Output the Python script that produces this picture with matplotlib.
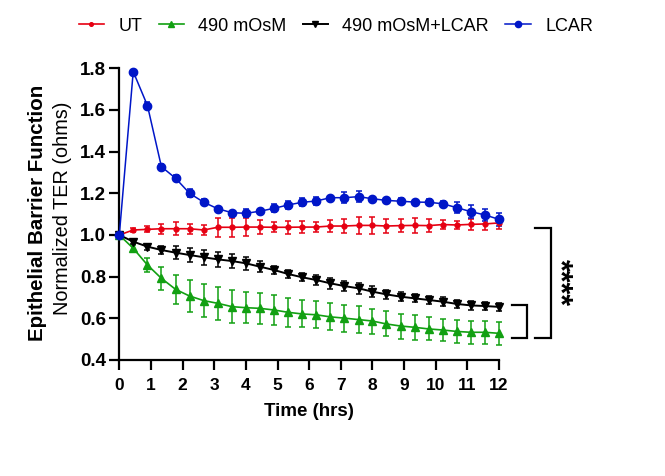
import matplotlib
matplotlib.use("Agg")
import matplotlib.pyplot as plt
from matplotlib.lines import Line2D

plt.rcParams['font.family'] = ['Liberation Sans', 'DejaVu Sans']

# --- DATA ---
time_hrs = [0.0, 0.44, 0.89, 1.33, 1.78, 2.22, 2.67, 3.11, 3.56, 4.0,
            4.44, 4.89, 5.33, 5.78, 6.22, 6.67, 7.11, 7.56, 8.0, 8.44,
            8.89, 9.33, 9.78, 10.22, 10.67, 11.11, 11.56, 12.0]

ut_mean = [1.0, 1.024, 1.027, 1.030, 1.030, 1.030, 1.024, 1.037, 1.037, 1.038,
           1.038, 1.037, 1.037, 1.038, 1.038, 1.043, 1.043, 1.046, 1.046, 1.043,
           1.045, 1.046, 1.045, 1.050, 1.048, 1.051, 1.053, 1.058]
ut_err = [0.0, 0.01, 0.015, 0.025, 0.03, 0.025, 0.025, 0.045, 0.045, 0.045,
          0.035, 0.025, 0.03, 0.03, 0.025, 0.03, 0.035, 0.04, 0.04, 0.035,
          0.03, 0.035, 0.03, 0.02, 0.02, 0.025, 0.03, 0.03]

hyper_mean = [1.0, 0.936, 0.856, 0.792, 0.739, 0.707, 0.685, 0.672, 0.656, 0.651,
              0.648, 0.640, 0.629, 0.621, 0.617, 0.607, 0.601, 0.594, 0.587, 0.573,
              0.563, 0.557, 0.549, 0.544, 0.537, 0.533, 0.533, 0.528]
hyper_err = [0.0, 0.015, 0.035, 0.055, 0.07, 0.075, 0.08, 0.08, 0.08, 0.075,
             0.075, 0.07, 0.07, 0.065, 0.065, 0.065, 0.065, 0.065, 0.06, 0.06,
             0.06, 0.06, 0.055, 0.055, 0.055, 0.055, 0.055, 0.055]

hyper_lcar_mean = [1.0, 0.968, 0.944, 0.928, 0.915, 0.904, 0.893, 0.883, 0.875, 0.864,
                   0.848, 0.832, 0.813, 0.797, 0.784, 0.768, 0.755, 0.744, 0.728, 0.715,
                   0.704, 0.696, 0.688, 0.680, 0.669, 0.662, 0.659, 0.655]
hyper_lcar_err = [0.0, 0.01, 0.015, 0.02, 0.03, 0.035, 0.035, 0.035, 0.035, 0.03,
                  0.025, 0.02, 0.02, 0.02, 0.025, 0.025, 0.025, 0.025, 0.025, 0.02,
                  0.02, 0.02, 0.02, 0.02, 0.02, 0.02, 0.02, 0.02]

lcar_mean = [1.0, 1.784, 1.621, 1.328, 1.272, 1.200, 1.157, 1.126, 1.107, 1.104,
             1.114, 1.128, 1.144, 1.157, 1.163, 1.179, 1.179, 1.184, 1.174, 1.166,
             1.162, 1.158, 1.157, 1.150, 1.131, 1.112, 1.096, 1.075]
lcar_err = [0.0, 0.01, 0.015, 0.015, 0.015, 0.02, 0.015, 0.01, 0.01, 0.02,
            0.01, 0.02, 0.02, 0.02, 0.02, 0.01, 0.025, 0.025, 0.01, 0.01,
            0.015, 0.01, 0.015, 0.015, 0.025, 0.03, 0.03, 0.03]

labels = ['UT', '490 mOsM', '490 mOsM+LCAR', 'LCAR']
x_ticks = list(range(0, 13))
y_ticks = [0.4, 0.6, 0.8, 1.0, 1.2, 1.4, 1.6, 1.8]

# --- STYLE ---
RED = '#E60012'
GREEN = '#12A012'
BLACK = '#000000'
BLUE = '#0016C8'

fig = plt.figure(figsize=(6.65, 4.76), dpi=100)
ax = fig.add_axes([0.1794, 0.2437, 0.571, 0.6128])

series = [
    (ut_mean, ut_err, RED, 'o', 3.5, 1.2),
    (hyper_mean, hyper_err, GREEN, '^', 5.8, 1.2),
    (hyper_lcar_mean, hyper_lcar_err, BLACK, 'v', 5.8, 1.4),
    (lcar_mean, lcar_err, BLUE, 'o', 6.0, 1.1),
]

for (m, e, c, mk, ms, lw), lab in zip(series, labels):
    ax.errorbar(time_hrs, m, yerr=e, color=c, marker=mk, markersize=ms,
                linewidth=lw, elinewidth=1.1, capsize=2.5, capthick=1.1,
                label=lab, clip_on=False, zorder=3)

ax.set_xlim(0, 12)
ax.set_ylim(0.4, 1.8)
ax.set_xticks(x_ticks)
ax.set_yticks(y_ticks)
ax.set_yticklabels([f"{v:.1f}" for v in y_ticks])

for s in ['top', 'right']:
    ax.spines[s].set_visible(False)
for s in ['left', 'bottom']:
    ax.spines[s].set_linewidth(1.6)

ax.tick_params(axis='x', length=7, width=1.6, labelsize=12.5, pad=6)
ax.tick_params(axis='y', length=7.5, width=1.6, labelsize=13.5, pad=2)
for lab in ax.get_xticklabels() + ax.get_yticklabels():
    lab.set_fontweight('bold')

ax.set_xlabel('Time (hrs)', fontsize=13.5, fontweight='bold', labelpad=7)

# two-line y label: bold title + regular subtitle
fig.text(0.056, 0.553, 'Epithelial Barrier Function', rotation=90,
         fontsize=14.8, fontweight='bold', ha='center', va='center')
fig.text(0.094, 0.562, 'Normalized TER (ohms)', rotation=90,
         fontsize=14.3, ha='center', va='center')

# significance brackets
bk = dict(color='black', linewidth=1.6, clip_on=False,
          solid_joinstyle='miter')
ax.plot([13.14, 13.65, 13.65, 13.14], [1.032, 1.032, 0.507, 0.507], **bk)
ax.plot([12.40, 12.88, 12.88, 12.40], [0.664, 0.664, 0.507, 0.507], **bk)
ax.text(13.9, 0.77, '****', rotation=270, fontsize=22, fontweight='bold',
        ha='center', va='center')

# legend
handles = [Line2D([0], [0], color=c, marker=mk, markersize=ms * 0.75,
                  linewidth=lw)
           for (m, e, c, mk, ms, lw) in series]
fig.legend(handles, labels, loc='center', bbox_to_anchor=(0.505, 0.945),
           ncol=4, frameon=False, fontsize=13, handlelength=1.4,
           handletextpad=0.8, columnspacing=0.9)

fig.savefig('out.png', dpi=100)
